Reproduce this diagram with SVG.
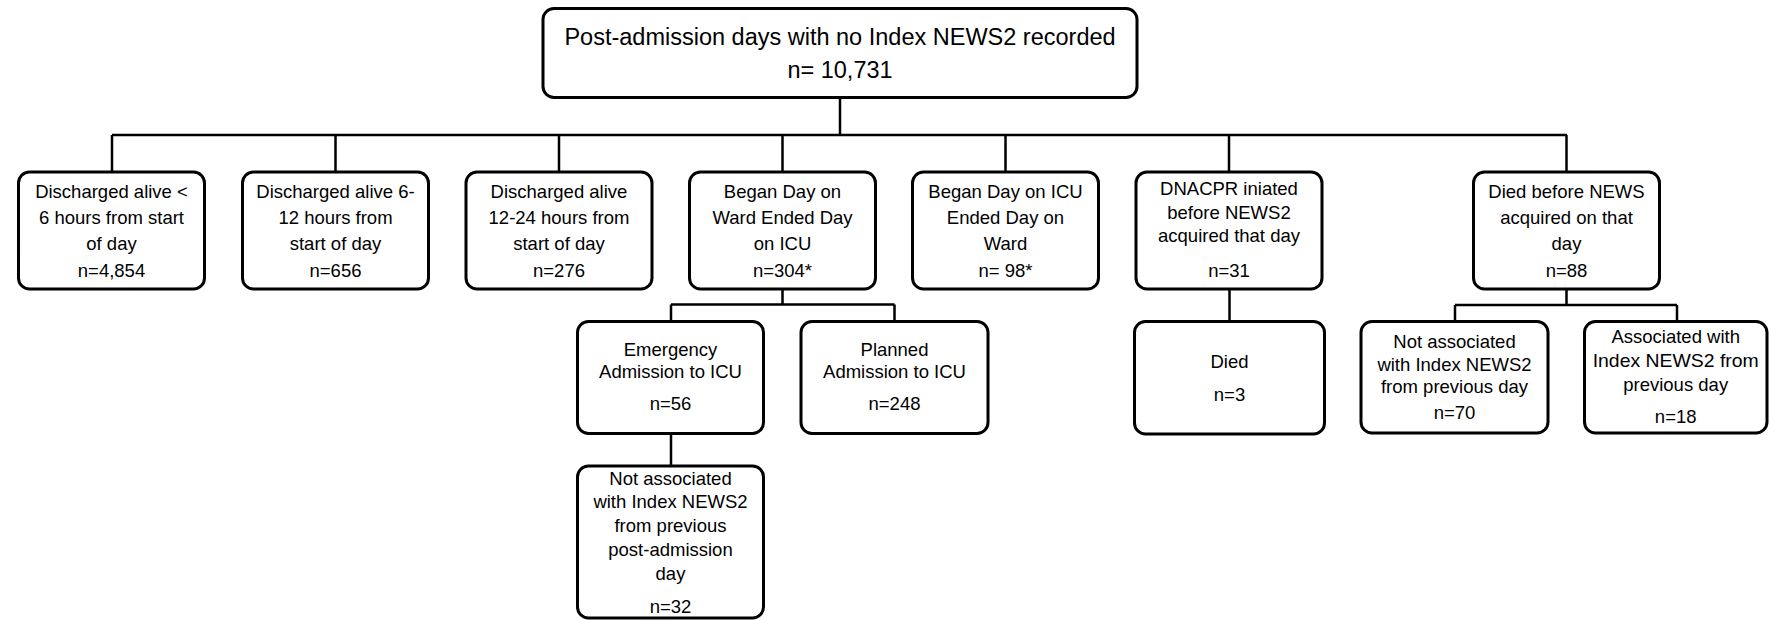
<svg xmlns="http://www.w3.org/2000/svg" width="1769" height="620" viewBox="0 0 1769 620">
<style>
.box{fill:#fff;stroke:#000;stroke-width:3}
.ln{fill:none;stroke:#000;stroke-width:2.5}
text{font-family:"Liberation Sans",Arial,sans-serif;font-size:18.5px;fill:#000;text-anchor:middle}
.title{font-size:23.5px}
</style>
<rect width="1769" height="620" fill="#fff"/>
<g id="connectors">
<path class="ln" d="M840 97V135M112 135H1567M112 135V172M335.5 135V172M559 135V172M782.5 135V172M1005.5 135V172M1229 135V172M1566.5 135V172"/>
<path class="ln" d="M782.5 289V304.5M671 304.5H894.5M671 304.5V321.5M894.5 304.5V321.5M671 433.5V466"/>
<path class="ln" d="M1229.5 289V321.5"/>
<path class="ln" d="M1566.5 289V305M1455 305H1677M1455 305V321.5M1677 305V321.5"/>
</g>
<g id="root">
<rect class="box" x="543" y="8.5" width="594" height="89" rx="11"/>
<text class="title" x="840" y="45">Post-admission days with no Index NEWS2 recorded</text>
<text class="title" x="840" y="78">n= 10,731</text>
</g>
<g id="n1">
<rect class="box" x="18.5" y="172" width="186" height="117" rx="11"/>
<text x="111.5" y="198">Discharged alive &lt;</text>
<text x="111.5" y="224">6 hours from start</text>
<text x="111.5" y="250">of day</text>
<text x="111.5" y="277">n=4,854</text>
</g>
<g id="n2">
<rect class="box" x="242.5" y="172" width="186" height="117" rx="11"/>
<text x="335.5" y="198">Discharged alive 6-</text>
<text x="335.5" y="224">12 hours from</text>
<text x="335.5" y="250">start of day</text>
<text x="335.5" y="277">n=656</text>
</g>
<g id="n3">
<rect class="box" x="466" y="172" width="186" height="117" rx="11"/>
<text x="559" y="198">Discharged alive</text>
<text x="559" y="224">12-24 hours from</text>
<text x="559" y="250">start of day</text>
<text x="559" y="277">n=276</text>
</g>
<g id="n4">
<rect class="box" x="689.5" y="172" width="186" height="117" rx="11"/>
<text x="782.5" y="198">Began Day on</text>
<text x="782.5" y="224">Ward Ended Day</text>
<text x="782.5" y="250">on ICU</text>
<text x="782.5" y="277">n=304*</text>
</g>
<g id="n5">
<rect class="box" x="912.5" y="172" width="186" height="117" rx="11"/>
<text x="1005.5" y="198">Began Day on ICU</text>
<text x="1005.5" y="224">Ended Day on</text>
<text x="1005.5" y="250">Ward</text>
<text x="1005.5" y="277">n= 98*</text>
</g>
<g id="n6">
<rect class="box" x="1136" y="172" width="186" height="117" rx="11"/>
<text x="1229" y="195">DNACPR iniated</text>
<text x="1229" y="218.5">before NEWS2</text>
<text x="1229" y="242">acquired that day</text>
<text x="1229" y="277">n=31</text>
</g>
<g id="n7">
<rect class="box" x="1473.5" y="172" width="186" height="117" rx="11"/>
<text x="1566.5" y="198">Died before NEWS</text>
<text x="1566.5" y="224">acquired on that</text>
<text x="1566.5" y="250">day</text>
<text x="1566.5" y="277">n=88</text>
</g>
<g id="n4a">
<rect class="box" x="577.5" y="321.5" width="186" height="112" rx="11"/>
<text x="670.5" y="356">Emergency</text>
<text x="670.5" y="377.7">Admission to ICU</text>
<text x="670.5" y="410">n=56</text>
</g>
<g id="n4b">
<rect class="box" x="801" y="321.5" width="187" height="112" rx="11"/>
<text x="894.5" y="356">Planned</text>
<text x="894.5" y="377.7">Admission to ICU</text>
<text x="894.5" y="410">n=248</text>
</g>
<g id="n4a1">
<rect class="box" x="577.5" y="466" width="186" height="152" rx="11"/>
<text x="670.5" y="485">Not associated</text>
<text x="670.5" y="508.3">with Index NEWS2</text>
<text x="670.5" y="531.7">from previous</text>
<text x="670.5" y="555.7">post-admission</text>
<text x="670.5" y="580">day</text>
<text x="670.5" y="612.5">n=32</text>
</g>
<g id="n6a">
<rect class="box" x="1134.5" y="321.5" width="190" height="112.5" rx="11"/>
<text x="1229.5" y="367.7">Died</text>
<text x="1229.5" y="400.7">n=3</text>
</g>
<g id="n7a">
<rect class="box" x="1361" y="321.5" width="187" height="111.5" rx="11"/>
<text x="1454.5" y="348.3">Not associated</text>
<text x="1454.5" y="370.7">with Index NEWS2</text>
<text x="1454.5" y="393.3">from previous day</text>
<text x="1454.5" y="419">n=70</text>
</g>
<g id="n7b">
<rect class="box" x="1584.5" y="321.5" width="182.5" height="111.5" rx="11"/>
<text x="1675.7" y="342.7">Associated with</text>
<text x="1675.7" y="366.7" textLength="166" lengthAdjust="spacingAndGlyphs">Index NEWS2 from</text>
<text x="1675.7" y="390.7">previous day</text>
<text x="1675.7" y="422.7">n=18</text>
</g>
</svg>
